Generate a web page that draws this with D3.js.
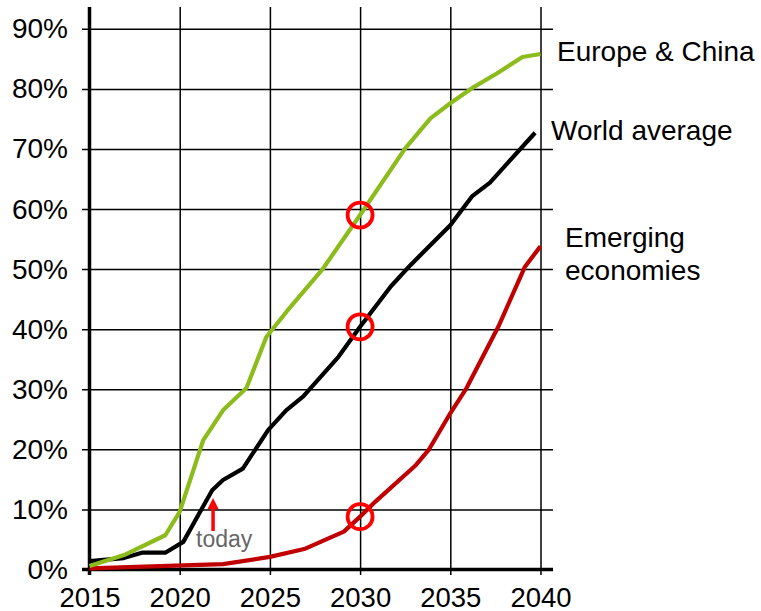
<!DOCTYPE html>
<html>
<head>
<meta charset="utf-8">
<script src="https://cdn.jsdelivr.net/npm/d3@7"></script>
<style>
  html, body { margin: 0; padding: 0; background: #fff; }
  svg { display: block; }
  text { font-family: "Liberation Sans", Arial, sans-serif; fill: #000; }
</style>
</head>
<body>
<svg id="chart" width="761" height="611"></svg>
<script>
// Share of market (%) by year for each region
const europeChina = [
  [2015, 0.6], [2017, 2.5], [2019.2, 5.7], [2020, 9.6], [2021.3, 21.5],
  [2022.4, 26.5], [2023.7, 30.2], [2024.8, 38.7], [2026, 43.2], [2027.9, 49.9],
  [2030, 59], [2032.5, 70.1], [2033.9, 75.1], [2035, 77.6], [2036.3, 80.3],
  [2037.6, 82.6], [2039, 85.3], [2040, 85.8]
];
const worldAverage = [
  [2015, 1.4], [2016.9, 1.9], [2017.9, 2.8], [2019.2, 2.8], [2020.2, 4.6],
  [2021.8, 13.2], [2022.4, 14.9], [2023.5, 16.8], [2024.9, 23.2], [2025.9, 26.5],
  [2026.85, 28.8], [2028.8, 35.4], [2030, 40.4], [2031.7, 47.1], [2032.8, 50.7],
  [2035, 57.3], [2036.2, 62.1], [2037.2, 64.4], [2039.7, 72.7]
];
const emergingEconomies = [
  [2015, 0.2], [2022.4, 0.9], [2025, 2.1], [2026.9, 3.4], [2029.1, 6.3],
  [2030, 8.8], [2030.85, 11.3], [2033.1, 17.4], [2033.8, 19.9], [2035, 26],
  [2035.9, 30.2], [2037.66, 40.4], [2039.14, 50.4], [2040, 53.8]
];
// Values circled in 2030
const highlightYear = 2030;
const highlightValues = [59, 40.4, 8.8];
// "today" marker
const todayYear = 2021.85;
const todayArrow = [6.4, 11.9];

const xTicks = [2015, 2020, 2025, 2030, 2035, 2040];
const yTicks = [0, 10, 20, 30, 40, 50, 60, 70, 80, 90];

const seriesNames = ["Europe & China", "World average", "Emerging economies"];

const svg = d3.select("#chart");

const x = d3.scaleLinear().domain([2015, 2040]).range([89.5, 540.5]);
const y = d3.scaleLinear().domain([0, 90]).range([569.5, 28.8]);

const gridLeft = 82, gridRight = 553, gridTop = 7, gridBottom = 575;

// Horizontal grid + y labels
const yAxis = d3.axisLeft(y)
  .tickValues(yTicks)
  .tickSizeInner(-(gridRight - gridLeft))
  .tickSizeOuter(0)
  .tickPadding(14)
  .tickFormat(d => d + "%");
const gy = svg.append("g").attr("transform", `translate(${gridLeft},0)`).call(yAxis);
gy.select(".domain").remove();
gy.selectAll(".tick line").attr("stroke", "#000").attr("stroke-width", 1.5);
gy.selectAll(".tick text")
  .attr("dy", null).attr("y", 9)
  .style("font-size", "28px").attr("fill", "#000");

// Vertical grid + x labels
const xAxis = d3.axisBottom(x)
  .tickValues(xTicks)
  .tickSizeInner(-(gridBottom - gridTop))
  .tickSizeOuter(0)
  .tickFormat(d3.format("d"));
const gx = svg.append("g").attr("transform", `translate(0,${gridBottom})`).call(xAxis);
gx.select(".domain").remove();
gx.selectAll(".tick line").attr("stroke", "#000").attr("stroke-width", 1.5);
gx.selectAll(".tick text")
  .attr("dy", null).attr("y", 32)
  .style("font-size", "27.5px").attr("fill", "#000");

// Heavy axis lines
svg.append("line")
  .attr("x1", gridLeft).attr("x2", gridRight)
  .attr("y1", y(0)).attr("y2", y(0))
  .attr("stroke", "#000").attr("stroke-width", 3.5);
svg.append("line")
  .attr("x1", x(2015)).attr("x2", x(2015))
  .attr("y1", gridTop).attr("y2", gridBottom)
  .attr("stroke", "#000").attr("stroke-width", 3.5);

// Series lines
const line = d3.line().x(d => x(d[0])).y(d => y(d[1]));
const series = [
  { name: seriesNames[2], data: emergingEconomies, color: "#c00000" },
  { name: seriesNames[1], data: worldAverage, color: "#000000" },
  { name: seriesNames[0], data: europeChina, color: "#8cbb1c" }
];
svg.append("g").selectAll("path")
  .data(series)
  .join("path")
  .attr("d", d => line(d.data))
  .attr("fill", "none")
  .attr("stroke", d => d.color)
  .attr("stroke-width", 4.2)
  .attr("stroke-linejoin", "round")
  .attr("stroke-linecap", "butt");

// Circles at 2030
svg.append("g").selectAll("circle")
  .data(highlightValues)
  .join("circle")
  .attr("cx", x(highlightYear))
  .attr("cy", d => y(d))
  .attr("r", 12.5)
  .attr("fill", "none")
  .attr("stroke", "#ff0000")
  .attr("stroke-width", 3.8);

// Series labels
const labels = svg.append("g").style("font-size", "28px");
labels.append("text").attr("x", 557).attr("y", 61).text(seriesNames[0]);
labels.append("text").attr("x", 551).attr("y", 140).text(seriesNames[1]);
const em = labels.append("text").attr("x", 565).attr("y", 247);
em.append("tspan").attr("x", 565).text("Emerging");
em.append("tspan").attr("x", 565).attr("dy", 33).text("economies");

// "today" arrow
const ax = x(todayYear);
const yTail = y(todayArrow[0]), yTip = y(todayArrow[1]);
svg.append("line")
  .attr("x1", ax).attr("x2", ax)
  .attr("y1", yTail).attr("y2", yTip + 8)
  .attr("stroke", "#ff0000").attr("stroke-width", 3.5);
svg.append("path")
  .attr("d", `M${ax},${yTip} L${ax - 5.5},${yTip + 11} L${ax + 5.5},${yTip + 11} Z`)
  .attr("fill", "#ff0000");
svg.append("text")
  .attr("x", 196).attr("y", 547)
  .style("font-size", "23px")
  .style("fill", "#666666")
  .text("today");
</script>
</body>
</html>
